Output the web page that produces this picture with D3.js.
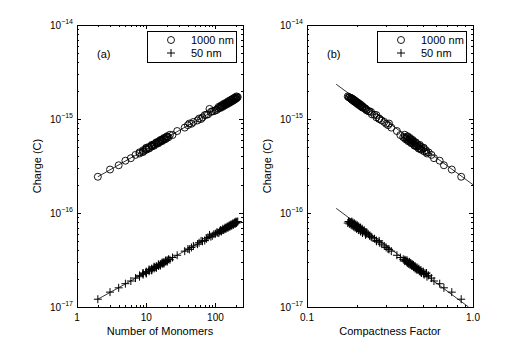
<!DOCTYPE html>
<html lang="en">
<head>
<meta charset="UTF-8">
<title>Charge vs number of monomers and compactness</title>
<script src="https://cdnjs.cloudflare.com/ajax/libs/d3/7.8.5/d3.min.js"></script>
<style>
    body { margin: 0; background: #fff; }
    svg { display: block; font-family: "Liberation Sans", Arial, Helvetica, sans-serif; }
    text { fill: #000; }
    .axis path, .axis line { stroke: #000; shape-rendering: crispEdges; }
</style>
</head>
<body>
<div id="chart"></div>
<script>
// one entry per aggregate: size, compactness and charge for the two particle sizes
var nMonomers = [2, 3, 4, 5, 6, 7, 8, 8, 9, 9, 10, 10, 10, 11, 11, 12, 12, 12, 13, 13,
    14, 14, 15, 15, 16, 16, 17, 17, 18, 18, 19, 20, 20, 24, 28, 36, 40, 45, 48, 55,
    58, 65, 74, 82, 90, 100, 108, 115, 120, 125, 130, 135, 140, 145, 150, 155, 160, 165, 170, 175,
    180, 185, 190, 195, 200, 205, 210,
    9, 10, 11, 12, 13, 14, 15, 16, 17, 18, 19, 20, 21, 22,
    105, 112, 118, 122, 128, 132, 138, 142, 148, 152, 158, 162, 168, 172, 178, 182, 188, 192, 198, 202,
    42, 62, 70, 78, 86, 95];
var compactness = [0.849, 0.745, 0.668, 0.630, 0.582, 0.562, 0.528, 0.540, 0.508, 0.520,
    0.490, 0.502, 0.485, 0.475, 0.486, 0.460, 0.472, 0.455, 0.447, 0.460,
    0.438, 0.448, 0.428, 0.438, 0.418, 0.430, 0.410, 0.422, 0.402, 0.414,
    0.398, 0.388, 0.400, 0.365, 0.348, 0.322, 0.308, 0.300, 0.292, 0.282,
    0.273, 0.262, 0.255, 0.225, 0.238, 0.228, 0.224, 0.216, 0.217, 0.211,
    0.212, 0.205, 0.207, 0.201, 0.203, 0.197, 0.198, 0.193, 0.195, 0.189,
    0.191, 0.186, 0.187, 0.183, 0.184, 0.180, 0.178,
    0.525, 0.505, 0.470, 0.478, 0.444, 0.452, 0.424, 0.434, 0.406, 0.418, 0.392, 0.404, 0.380, 0.388,
    0.229, 0.216, 0.221, 0.210, 0.215, 0.204, 0.210, 0.199, 0.205, 0.195,
    0.201, 0.191, 0.197, 0.187, 0.193, 0.184, 0.189, 0.180, 0.186, 0.176,
    0.312, 0.272, 0.262, 0.246, 0.243, 0.234];
var charge1000 = [2.43e-16, 2.90e-16, 3.22e-16, 3.60e-16, 3.83e-16, 4.15e-16, 4.30e-16, 4.42e-16, 4.52e-16, 4.65e-16,
    4.70e-16, 4.85e-16, 4.76e-16, 4.92e-16, 5.05e-16, 5.08e-16, 5.22e-16, 5.15e-16, 5.28e-16, 5.40e-16,
    5.45e-16, 5.58e-16, 5.60e-16, 5.74e-16, 5.76e-16, 5.90e-16, 5.92e-16, 6.05e-16, 6.04e-16, 6.20e-16,
    6.28e-16, 6.32e-16, 6.50e-16, 6.75e-16, 7.45e-16, 8.10e-16, 8.60e-16, 8.90e-16, 9.30e-16, 9.65e-16,
    1.01e-15, 1.04e-15, 1.11e-15, 1.28e-15, 1.21e-15, 1.24e-15, 1.30e-15, 1.32e-15, 1.36e-15, 1.36e-15,
    1.41e-15, 1.41e-15, 1.45e-15, 1.45e-15, 1.49e-15, 1.49e-15, 1.53e-15, 1.53e-15, 1.57e-15, 1.57e-15,
    1.61e-15, 1.61e-15, 1.65e-15, 1.65e-15, 1.68e-15, 1.69e-15, 1.71e-15,
    4.45e-16, 4.95e-16, 4.85e-16, 5.30e-16, 5.20e-16, 5.65e-16, 5.52e-16, 5.98e-16, 5.82e-16, 6.28e-16,
    6.10e-16, 6.55e-16, 6.40e-16, 6.80e-16,
    1.25e-15, 1.35e-15, 1.31e-15, 1.40e-15, 1.35e-15, 1.45e-15, 1.40e-15, 1.49e-15, 1.44e-15, 1.54e-15,
    1.48e-15, 1.58e-15, 1.52e-15, 1.62e-15, 1.56e-15, 1.66e-15, 1.60e-15, 1.70e-15, 1.64e-15, 1.74e-15,
    8.95e-16, 1.00e-15, 1.10e-15, 1.12e-15, 1.19e-15, 1.21e-15];
var charge50 = [1.21e-17, 1.44e-17, 1.60e-17, 1.77e-17, 1.89e-17, 2.03e-17, 2.10e-17, 2.17e-17, 2.21e-17, 2.28e-17,
    2.30e-17, 2.38e-17, 2.34e-17, 2.40e-17, 2.47e-17, 2.48e-17, 2.56e-17, 2.52e-17, 2.57e-17, 2.64e-17,
    2.65e-17, 2.72e-17, 2.73e-17, 2.80e-17, 2.80e-17, 2.87e-17, 2.87e-17, 2.94e-17, 2.93e-17, 3.02e-17,
    3.05e-17, 3.07e-17, 3.15e-17, 3.36e-17, 3.55e-17, 3.93e-17, 4.14e-17, 4.30e-17, 4.46e-17, 4.66e-17,
    4.83e-17, 5.00e-17, 5.32e-17, 5.85e-17, 5.72e-17, 6.02e-17, 6.16e-17, 6.38e-17, 6.43e-17, 6.60e-17,
    6.64e-17, 6.81e-17, 6.85e-17, 7.01e-17, 7.04e-17, 7.20e-17, 7.23e-17, 7.39e-17, 7.41e-17, 7.56e-17,
    7.59e-17, 7.74e-17, 7.76e-17, 7.90e-17, 7.93e-17, 8.06e-17, 8.12e-17,
    2.30e-17, 2.27e-17, 2.51e-17, 2.45e-17, 2.68e-17, 2.61e-17, 2.84e-17, 2.76e-17, 2.98e-17, 2.90e-17,
    3.12e-17, 3.04e-17, 3.22e-17, 3.18e-17,
    6.25e-17, 6.12e-17, 6.58e-17, 6.36e-17, 6.80e-17, 6.58e-17, 7.00e-17, 6.78e-17, 7.20e-17, 6.96e-17,
    7.40e-17, 7.15e-17, 7.58e-17, 7.32e-17, 7.76e-17, 7.50e-17, 7.94e-17, 7.66e-17, 8.10e-17, 7.82e-17,
    4.10e-17, 5.05e-17, 5.10e-17, 5.50e-17, 5.60e-17, 5.95e-17];

// power-law fits, given by their end points
var fitMonomers = [2, 210];
var fit1000ByMonomers = [2.43e-16, 1.71e-15];
var fit50ByMonomers = [1.21e-17, 8.12e-17];
var fitCompactness1000 = [0.15, 1.0];
var fit1000ByCompactness = [2.34e-15, 2.0e-16];
var fitCompactness50 = [0.15, 0.94];
var fit50ByCompactness = [1.12e-16, 1.0e-17];

var chargeTicks = [1e-17, 1e-16, 1e-15, 1e-14];
var chargeTickExponents = ['\u221217', '\u221216', '\u221215', '\u221214'];
var monomerTicks = [1, 10, 100];
var monomerTickLabels = ['1', '10', '100'];
var compactnessTicks = [0.1, 1.0];
var compactnessTickLabels = ['0.1', '1.0'];
var seriesNames = ['1000 nm', '50 nm'];

var WIDTH = 522;
var HEIGHT = 346;
var TOP = 25;
var BOTTOM = 307;

var svg = d3.select('#chart').append('svg')
    .attr('width', WIDTH)
    .attr('height', HEIGHT);

var y = d3.scaleLog().domain([1e-17, 1e-14]).range([BOTTOM, TOP]);

var plusPath = function (s) {
    return 'M' + (-s) + ',0H' + s + 'M0,' + (-s) + 'V' + s;
};

var drawPanel = function (cfg) {
    var x = d3.scaleLog().domain(cfg.xDomain).range([cfg.left, cfg.right]);
    var g = svg.append('g');

    var isMajor = function (v) {
        return Math.abs(Math.log10(v) - Math.round(Math.log10(v))) < 1e-6;
    };
    var yMinor = y.ticks().filter(function (v) { return !isMajor(v); });
    var xMinor = x.ticks().filter(function (v) { return !isMajor(v); });

    // ticks point inward on all four sides
    var axes = [
        [d3.axisLeft, y, 'translate(' + cfg.left + ',0)', chargeTicks, yMinor],
        [d3.axisRight, y, 'translate(' + cfg.right + ',0)', chargeTicks, yMinor],
        [d3.axisBottom, x, 'translate(0,' + BOTTOM + ')', cfg.xTicks, xMinor],
        [d3.axisTop, x, 'translate(0,' + TOP + ')', cfg.xTicks, xMinor]
    ];
    axes.forEach(function (a) {
        g.append('g').attr('class', 'axis').attr('transform', a[2])
            .call(a[0](a[1]).tickValues(a[4]).tickSize(-2).tickSizeOuter(0).tickFormat(''));
        g.append('g').attr('class', 'axis').attr('transform', a[2])
            .call(a[0](a[1]).tickValues(a[3]).tickSize(-4).tickSizeOuter(0).tickFormat(''));
    });

    // y tick labels, 10 with superscript exponent
    var yl = g.selectAll('text.ylab').data(chargeTicks).enter().append('text')
        .attr('class', 'ylab')
        .attr('x', cfg.left - 4)
        .attr('y', function (d) { return y(d) + 3.6; })
        .attr('text-anchor', 'end')
        .style('font-size', '10px');
    yl.append('tspan').text('10');
    yl.append('tspan')
        .attr('dy', -5)
        .style('font-size', '7px')
        .text(function (d, i) { return chargeTickExponents[i]; });

    g.selectAll('text.xlab').data(cfg.xTicks).enter().append('text')
        .attr('class', 'xlab')
        .attr('x', function (d) { return x(d); })
        .attr('y', 320.5)
        .attr('text-anchor', 'middle')
        .style('font-size', '10px')
        .text(function (d, i) { return cfg.xTickLabels[i]; });

    g.append('text')
        .attr('x', (cfg.left + cfg.right) / 2)
        .attr('y', 335)
        .attr('text-anchor', 'middle')
        .style('font-size', '11px')
        .text(cfg.xTitle);

    g.append('text')
        .attr('transform', 'translate(' + (cfg.left - 36) + ',' + ((TOP + BOTTOM) / 2) + ') rotate(-90)')
        .attr('text-anchor', 'middle')
        .style('font-size', '11px')
        .text('Charge (C)');

    g.append('text')
        .attr('x', cfg.left + 20)
        .attr('y', 58)
        .style('font-size', '11px')
        .text(cfg.letter);

    // fitted lines
    var clipId = 'clip' + cfg.letter.replace(/\W/g, '');
    g.append('clipPath').attr('id', clipId).append('rect')
        .attr('x', cfg.left).attr('y', TOP)
        .attr('width', cfg.right - cfg.left).attr('height', BOTTOM - TOP);

    var line = d3.line()
        .x(function (d) { return x(d[0]); })
        .y(function (d) { return y(d[1]); });
    cfg.fits.forEach(function (f) {
        g.append('path')
            .attr('clip-path', 'url(#' + clipId + ')')
            .attr('d', line(d3.zip(f[0], f[1])))
            .attr('fill', 'none')
            .attr('stroke', '#000')
            .attr('stroke-width', 0.8);
    });

    var pts = d3.range(cfg.xs.length);

    g.selectAll('circle.c1000').data(pts).enter().append('circle')
        .attr('class', 'c1000')
        .attr('cx', function (i) { return x(cfg.xs[i]); })
        .attr('cy', function (i) { return y(charge1000[i]); })
        .attr('r', 3.5)
        .attr('fill', 'none')
        .attr('stroke', '#000')
        .attr('stroke-width', 0.9);

    g.selectAll('path.p50').data(pts).enter().append('path')
        .attr('class', 'p50')
        .attr('transform', function (i) { return 'translate(' + x(cfg.xs[i]) + ',' + y(charge50[i]) + ')'; })
        .attr('d', plusPath(4))
        .attr('fill', 'none')
        .attr('stroke', '#000')
        .attr('stroke-width', 1);

    // legend
    var lx = cfg.right - 96;
    var legend = g.append('g');
    legend.append('rect')
        .attr('x', lx + 0.5).attr('y', 31.5)
        .attr('width', 89).attr('height', 31)
        .attr('fill', '#fff')
        .attr('stroke', '#000')
        .attr('shape-rendering', 'crispEdges');
    legend.append('circle')
        .attr('cx', lx + 24).attr('cy', 40)
        .attr('r', 3.5)
        .attr('fill', 'none').attr('stroke', '#000').attr('stroke-width', 0.9);
    legend.append('path')
        .attr('transform', 'translate(' + (lx + 24) + ',53)')
        .attr('d', plusPath(4))
        .attr('stroke', '#000');
    legend.selectAll('text').data(seriesNames).enter().append('text')
        .attr('x', lx + 44)
        .attr('y', function (d, i) { return 44 + i * 13; })
        .style('font-size', '11px')
        .text(function (d) { return d; });
};

drawPanel({
    left: 77, right: 243,
    xDomain: [1, 250],
    xs: nMonomers,
    xTicks: monomerTicks,
    xTickLabels: monomerTickLabels,
    xTitle: 'Number of Monomers',
    letter: '(a)',
    fits: [[fitMonomers, fit1000ByMonomers], [fitMonomers, fit50ByMonomers]]
});

drawPanel({
    left: 307, right: 473,
    xDomain: [0.1, 1.0],
    xs: compactness,
    xTicks: compactnessTicks,
    xTickLabels: compactnessTickLabels,
    xTitle: 'Compactness Factor',
    letter: '(b)',
    fits: [[fitCompactness1000, fit1000ByCompactness], [fitCompactness50, fit50ByCompactness]]
});
</script>
</body>
</html>
